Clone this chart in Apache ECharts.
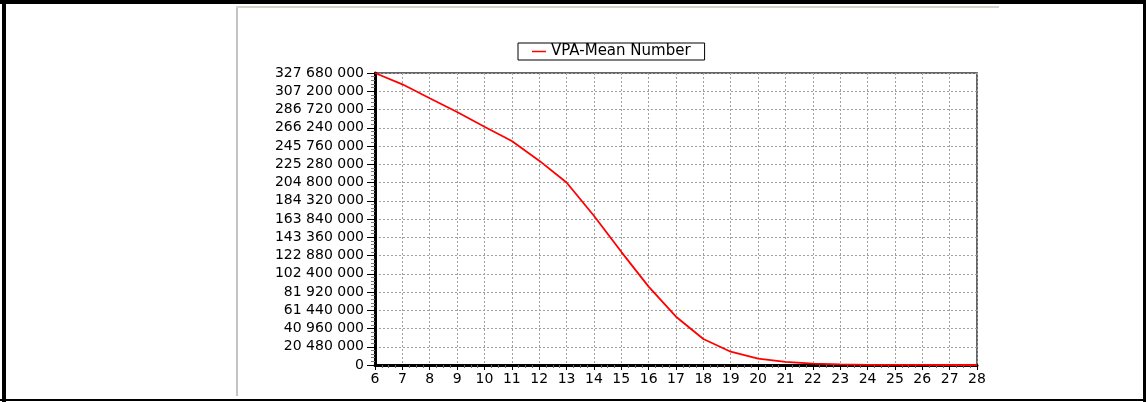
<!DOCTYPE html>
<html>
<head>
<meta charset="utf-8">
<script src="https://cdn.jsdelivr.net/npm/echarts@6/dist/echarts.min.js"></script>
<style>
html,body{margin:0;padding:0;background:#fff;}
#c{width:1146px;height:402px;}
</style>
</head>
<body>
<div id="c"></div>
<script>
// Data
var seriesName = 'VPA-Mean Number';
var xValues = [6, 7, 8, 9, 10, 11, 12, 13, 14, 15, 16, 17, 18, 19, 20, 21, 22, 23, 24, 25, 26, 27, 28];
var meanNumber = [327680000, 315000000, 299300000, 283900000, 267400000, 251400000, 229300000, 204800000,
  167500000, 127000000, 88000000, 54200000, 29200000, 14900000, 7100000, 3600000, 1500000, 600000,
  250000, 100000, 50000, 20000, 10000];
var yMin = 0, yMax = 327680000, yStep = 20480000;
var xMin = 6, xMax = 28, xStep = 1;

function fmt(v) {
  return String(Math.round(v)).replace(/\B(?=(\d{3})+(?!\d))/g, ' ');
}

var points = xValues.map(function (x, i) { return [x, meanNumber[i]]; });
var font = 'DejaVu Sans';

var chart = echarts.init(document.getElementById('c'), null, {renderer: 'canvas'});
chart.setOption({
  animation: false,
  backgroundColor: '#ffffff',
  textStyle: {fontFamily: font},
  graphic: [
    {type: 'rect', shape: {x: 0, y: 0, width: 1146, height: 4}, style: {fill: '#000'}, silent: true},
    {type: 'rect', shape: {x: 2, y: 0, width: 4, height: 402}, style: {fill: '#000'}, silent: true},
    {type: 'rect', shape: {x: 0, y: 399, width: 1146, height: 2}, style: {fill: '#000'}, silent: true},
    {type: 'rect', shape: {x: 1143, y: 0, width: 3, height: 402}, style: {fill: '#000'}, silent: true},
    {type: 'rect', shape: {x: 236, y: 6, width: 2, height: 390}, style: {fill: '#c4c4c4'}, silent: true},
    {type: 'rect', shape: {x: 236, y: 6, width: 763, height: 2}, style: {fill: '#d6d2ca'}, silent: true}
  ],
  legend: {
    left: 518, top: 43,
    data: [{name: seriesName, icon: 'rect', itemStyle: {color: '#ff0000', borderWidth: 0}}],
    itemWidth: 14, itemHeight: 1.5,
    padding: [1, 14, 1, 14],
    borderColor: '#000', borderWidth: 1,
    textStyle: {fontFamily: font, fontSize: 15, color: '#000'}
  },
  grid: {
    left: 375, right: 169, top: 73, bottom: 37,
    show: true, borderColor: '#333', borderWidth: 1.5, backgroundColor: 'transparent'
  },
  xAxis: {
    type: 'value', min: xMin, max: xMax, interval: xStep,
    z: 1,
    axisLine: {onZero: false, lineStyle: {color: '#000', width: 3}},
    axisTick: {show: true, inside: false, length: 5, lineStyle: {color: '#000', width: 1}},
    minorTick: {show: true, splitNumber: 4, length: 3, lineStyle: {color: '#666'}},
    axisLabel: {margin: 7, fontSize: 14, color: '#000', fontFamily: font},
    splitLine: {show: true, lineStyle: {color: '#a0a0a0', type: [2, 2], width: 1}}
  },
  yAxis: {
    type: 'value', min: yMin, max: yMax, interval: yStep,
    z: 1,
    axisLine: {show: true, onZero: false, lineStyle: {color: '#000', width: 3}},
    axisTick: {show: true, inside: false, length: 8, lineStyle: {color: '#000', width: 1}},
    minorTick: {show: true, splitNumber: 5, length: 4, lineStyle: {color: '#777'}},
    axisLabel: {margin: 11, fontSize: 14, color: '#000', fontFamily: font, formatter: fmt},
    splitLine: {show: true, lineStyle: {color: '#a0a0a0', type: [2, 2], width: 1}}
  },
  series: [{
    name: seriesName,
    type: 'line',
    data: points,
    symbol: 'none',
    clip: false,
    lineStyle: {color: '#ff0000', width: 1.8},
    itemStyle: {color: '#ff0000'},
    z: 10
  }]
});
</script>
</body>
</html>
